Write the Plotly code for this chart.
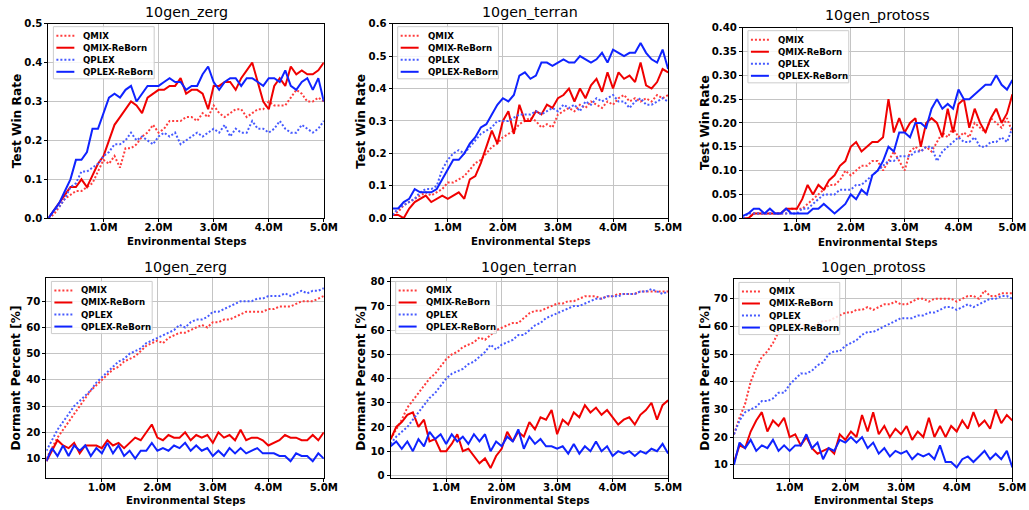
import plotly.graph_objects as go

# ---------------- data (x in millions of environmental steps) ----------------
steps_m = [0.0, 0.1, 0.2, 0.3, 0.4, 0.5, 0.6, 0.7, 0.8, 0.9,
           1.0, 1.1, 1.2, 1.3, 1.4, 1.5, 1.6, 1.7, 1.8, 1.9,
           2.0, 2.1, 2.2, 2.3, 2.4, 2.5, 2.6, 2.7, 2.8, 2.9,
           3.0, 3.1, 3.2, 3.3, 3.4, 3.5, 3.6, 3.7, 3.8, 3.9,
           4.0, 4.1, 4.2, 4.3, 4.4, 4.5, 4.6, 4.7, 4.8, 4.9, 5.0]

methods = ["QMIX", "QMIX-ReBorn", "QPLEX", "QPLEX-ReBorn"]
maps = ["10gen_zerg", "10gen_terran", "10gen_protoss"]
x_tick_vals = [1, 2, 3, 4, 5]
x_tick_text = ["1.0M", "2.0M", "3.0M", "4.0M", "5.0M"]

# ---- Test win rate ----
zerg_win_qmix = [0.0, 0.01, 0.03, 0.05, 0.06, 0.07, 0.07, 0.08, 0.09, 0.12,
                 0.15, 0.14, 0.16, 0.13, 0.18, 0.18, 0.19, 0.21, 0.22, 0.24,
                 0.22, 0.23, 0.25, 0.25, 0.25, 0.26, 0.26, 0.25, 0.27, 0.26,
                 0.29, 0.27, 0.26, 0.27, 0.28, 0.28, 0.26, 0.27, 0.28, 0.28,
                 0.30, 0.29, 0.29, 0.29, 0.31, 0.33, 0.32, 0.30, 0.30, 0.31, 0.30]
zerg_win_qmix_reborn = [0.0, 0.02, 0.04, 0.06, 0.08, 0.08, 0.10, 0.08, 0.11, 0.14,
                        0.16, 0.20, 0.24, 0.26, 0.28, 0.30, 0.29, 0.27, 0.31, 0.32,
                        0.33, 0.33, 0.34, 0.34, 0.36, 0.32, 0.33, 0.33, 0.32, 0.28,
                        0.34, 0.34, 0.35, 0.35, 0.33, 0.36, 0.38, 0.40, 0.35, 0.30,
                        0.28, 0.34, 0.36, 0.34, 0.39, 0.37, 0.38, 0.37, 0.37, 0.38, 0.40]
zerg_win_qplex = [0.0, 0.02, 0.03, 0.05, 0.08, 0.09, 0.12, 0.12, 0.13, 0.14,
                  0.16, 0.17, 0.19, 0.19, 0.20, 0.22, 0.20, 0.21, 0.20, 0.19,
                  0.21, 0.22, 0.21, 0.22, 0.19, 0.20, 0.21, 0.22, 0.21, 0.22,
                  0.23, 0.22, 0.24, 0.21, 0.23, 0.22, 0.22, 0.25, 0.23, 0.23,
                  0.22, 0.23, 0.25, 0.23, 0.22, 0.22, 0.24, 0.23, 0.22, 0.23, 0.25]
zerg_win_qplex_reborn = [0.0, 0.02, 0.04, 0.07, 0.10, 0.15, 0.15, 0.17, 0.23, 0.23,
                         0.27, 0.31, 0.32, 0.31, 0.33, 0.34, 0.30, 0.32, 0.34, 0.34,
                         0.34, 0.35, 0.36, 0.35, 0.35, 0.33, 0.34, 0.34, 0.37, 0.39,
                         0.35, 0.33, 0.35, 0.36, 0.36, 0.34, 0.36, 0.36, 0.35, 0.34,
                         0.36, 0.36, 0.35, 0.38, 0.34, 0.33, 0.35, 0.36, 0.33, 0.36, 0.30]

terran_win_qmix = [0.01, 0.02, 0.04, 0.05, 0.06, 0.07, 0.08, 0.07, 0.08, 0.09,
                   0.11, 0.11, 0.12, 0.13, 0.15, 0.17, 0.18, 0.20, 0.22, 0.23,
                   0.25, 0.26, 0.27, 0.29, 0.30, 0.31, 0.30, 0.28, 0.29, 0.28,
                   0.32, 0.33, 0.34, 0.33, 0.35, 0.34, 0.36, 0.35, 0.34, 0.36,
                   0.35, 0.37, 0.38, 0.36, 0.37, 0.36, 0.37, 0.36, 0.38, 0.37, 0.38]
terran_win_qmix_reborn = [0.01, 0.01, 0.00, 0.03, 0.05, 0.06, 0.07, 0.05, 0.06, 0.07,
                          0.06, 0.07, 0.08, 0.06, 0.12, 0.13, 0.17, 0.22, 0.27, 0.23,
                          0.30, 0.33, 0.26, 0.35, 0.30, 0.30, 0.33, 0.32, 0.35, 0.34,
                          0.37, 0.38, 0.40, 0.36, 0.40, 0.37, 0.41, 0.43, 0.39, 0.45,
                          0.40, 0.45, 0.43, 0.44, 0.42, 0.48, 0.41, 0.40, 0.42, 0.46, 0.45]
terran_win_qplex = [0.01, 0.03, 0.04, 0.05, 0.06, 0.08, 0.09, 0.09, 0.10, 0.15,
                    0.18, 0.20, 0.21, 0.20, 0.22, 0.24, 0.26, 0.27, 0.28, 0.30,
                    0.30, 0.30, 0.31, 0.32, 0.32, 0.32, 0.33, 0.32, 0.33, 0.34,
                    0.33, 0.35, 0.34, 0.35, 0.33, 0.36, 0.35, 0.37, 0.36, 0.37,
                    0.38, 0.36, 0.36, 0.34, 0.36, 0.37, 0.35, 0.35, 0.36, 0.37, 0.36]
terran_win_qplex_reborn = [0.03, 0.03, 0.05, 0.06, 0.09, 0.08, 0.08, 0.08, 0.09, 0.12,
                           0.15, 0.18, 0.18, 0.20, 0.23, 0.25, 0.28, 0.29, 0.32, 0.35,
                           0.37, 0.36, 0.38, 0.44, 0.45, 0.43, 0.44, 0.48, 0.48, 0.47,
                           0.48, 0.49, 0.48, 0.48, 0.50, 0.49, 0.48, 0.49, 0.51, 0.48,
                           0.52, 0.51, 0.50, 0.51, 0.51, 0.54, 0.51, 0.49, 0.48, 0.52, 0.46]

protoss_win_qmix = [0.00, 0.00, 0.01, 0.01, 0.01, 0.01, 0.01, 0.01, 0.01, 0.02,
                    0.02, 0.02, 0.03, 0.04, 0.05, 0.06, 0.07, 0.07, 0.08, 0.10,
                    0.09, 0.10, 0.11, 0.11, 0.12, 0.12, 0.10, 0.12, 0.14, 0.12,
                    0.10, 0.14, 0.15, 0.14, 0.15, 0.14, 0.16, 0.18, 0.17, 0.19,
                    0.17, 0.18, 0.17, 0.20, 0.19, 0.18, 0.21, 0.20, 0.19, 0.21, 0.18]
protoss_win_qmix_reborn = [0.00, 0.00, 0.01, 0.01, 0.01, 0.01, 0.01, 0.01, 0.02, 0.02,
                           0.02, 0.04, 0.07, 0.05, 0.07, 0.06, 0.08, 0.09, 0.11, 0.12,
                           0.15, 0.16, 0.14, 0.15, 0.16, 0.16, 0.17, 0.25, 0.18, 0.21,
                           0.18, 0.20, 0.21, 0.15, 0.20, 0.21, 0.20, 0.17, 0.23, 0.18,
                           0.24, 0.25, 0.19, 0.23, 0.20, 0.18, 0.21, 0.23, 0.20, 0.22, 0.26]
protoss_win_qplex = [0.00, 0.01, 0.01, 0.01, 0.01, 0.01, 0.01, 0.01, 0.01, 0.01,
                     0.01, 0.02, 0.02, 0.03, 0.04, 0.05, 0.05, 0.05, 0.06, 0.06,
                     0.06, 0.07, 0.07, 0.08, 0.09, 0.10, 0.11, 0.12, 0.12, 0.13,
                     0.13, 0.13, 0.14, 0.14, 0.15, 0.15, 0.12, 0.14, 0.15, 0.16,
                     0.17, 0.16, 0.16, 0.17, 0.15, 0.15, 0.16, 0.16, 0.17, 0.16, 0.19]
protoss_win_qplex_reborn = [0.005, 0.01, 0.02, 0.02, 0.01, 0.02, 0.01, 0.01, 0.02, 0.01,
                            0.01, 0.01, 0.01, 0.02, 0.02, 0.03, 0.02, 0.01, 0.02, 0.03,
                            0.05, 0.04, 0.06, 0.05, 0.09, 0.10, 0.12, 0.15, 0.14, 0.18,
                            0.18, 0.17, 0.20, 0.20, 0.19, 0.23, 0.25, 0.23, 0.24, 0.23,
                            0.27, 0.25, 0.25, 0.26, 0.27, 0.28, 0.28, 0.30, 0.28, 0.27, 0.29]

# ---- Dormant percent ----
zerg_dorm_qmix = [10, 14, 18, 21, 24, 27, 30, 33, 36, 38,
                  40, 42, 44, 45, 47, 48, 49, 51, 53, 54,
                  55, 54, 56, 57, 58, 58, 59, 60, 61, 60,
                  62, 62, 63, 63, 64, 65, 66, 66, 66, 66,
                  67, 67, 68, 68, 68, 69, 70, 70, 70, 71, 72]
zerg_dorm_qmix_reborn = [9, 13, 17, 15, 14, 16, 12, 15, 15, 15,
                         14, 17, 15, 16, 14, 16, 18, 17, 20, 23,
                         18, 17, 19, 18, 18, 20, 17, 19, 18, 19,
                         16, 20, 18, 19, 17, 21, 17, 18, 18, 17,
                         15, 16, 17, 19, 18, 18, 17, 17, 19, 17, 20]
zerg_dorm_qplex = [13, 17, 21, 24, 27, 30, 32, 34, 36, 39,
                   41, 43, 45, 47, 48, 50, 51, 52, 54, 55,
                   56, 57, 58, 59, 61, 60, 62, 63, 63, 64,
                   66, 66, 67, 68, 69, 70, 70, 70, 71, 71,
                   72, 72, 72, 73, 72, 73, 74, 73, 74, 74, 75]
zerg_dorm_qplex_reborn = [9, 14, 11, 15, 11, 15, 13, 15, 11, 14,
                          12, 16, 12, 15, 11, 13, 10, 13, 13, 16,
                          13, 14, 13, 15, 14, 16, 13, 15, 13, 14,
                          11, 13, 11, 14, 12, 14, 12, 13, 14, 12,
                          12, 12, 11, 11, 9, 12, 11, 11, 9, 12, 10]

terran_dorm_qmix = [15, 19, 23, 28, 31, 34, 37, 40, 42, 45,
                    48, 50, 51, 53, 54, 55, 57, 56, 58, 60,
                    61, 62, 63, 63, 65, 67, 68, 68, 69, 70,
                    71, 71, 72, 72, 73, 74, 74, 74, 73, 74,
                    74, 75, 75, 75, 75, 76, 76, 76, 76, 76, 76]
terran_dorm_qmix_reborn = [15, 20, 22, 25, 26, 20, 23, 14, 15, 10,
                           10, 13, 17, 10, 11, 8, 5, 7, 3, 8,
                           11, 18, 14, 18, 16, 22, 19, 24, 23, 27,
                           17, 23, 21, 26, 24, 29, 26, 28, 25, 27,
                           24, 21, 23, 24, 21, 25, 27, 30, 23, 29, 31]
terran_dorm_qplex = [13, 16, 18, 20, 23, 26, 29, 32, 34, 37,
                     40, 42, 43, 44, 46, 47, 49, 51, 54, 52,
                     54, 55, 56, 58, 58, 60, 62, 63, 65, 66,
                     67, 68, 69, 70, 70, 71, 72, 73, 73, 74,
                     74, 74, 75, 75, 75, 76, 76, 77, 76, 75, 76]
terran_dorm_qplex_reborn = [12, 14, 11, 14, 10, 15, 12, 18, 15, 17,
                            13, 17, 14, 16, 13, 17, 14, 17, 10, 14,
                            12, 16, 14, 19, 11, 16, 13, 15, 12, 12,
                            11, 12, 9, 13, 9, 12, 10, 14, 10, 12,
                            8, 10, 9, 10, 8, 10, 9, 11, 10, 13, 9]

protoss_dorm_qmix = [21, 27, 32, 40, 45, 49, 51, 54, 58, 60,
                     61, 61, 61, 60, 60, 61, 62, 62, 63, 64,
                     65, 65, 66, 66, 67, 66, 67, 68, 68, 69,
                     68, 68, 69, 70, 70, 69, 70, 70, 70, 70,
                     69, 70, 71, 71, 70, 73, 71, 71, 72, 72, 72]
protoss_dorm_qmix_reborn = [11, 17, 16, 22, 26, 29, 22, 26, 24, 27,
                            20, 21, 17, 20, 16, 14, 15, 16, 14, 21,
                            19, 22, 20, 28, 22, 29, 21, 24, 20, 23,
                            21, 24, 19, 22, 20, 27, 20, 24, 20, 24,
                            22, 26, 23, 29, 24, 26, 23, 30, 25, 28, 26]
protoss_dorm_qplex = [21, 26, 29, 30, 31, 33, 33, 34, 36, 36,
                      39, 41, 43, 43, 44, 46, 47, 50, 51, 51,
                      53, 54, 55, 57, 58, 58, 59, 60, 61, 62,
                      63, 63, 63, 64, 64, 65, 65, 66, 67, 67,
                      66, 67, 68, 67, 68, 69, 70, 70, 71, 71, 70]
protoss_dorm_qplex_reborn = [10, 18, 16, 19, 15, 17, 16, 19, 15, 17,
                             15, 17, 17, 21, 16, 18, 12, 16, 15, 19,
                             18, 20, 18, 20, 16, 18, 14, 16, 13, 15,
                             14, 15, 12, 14, 13, 14, 12, 17, 11, 11,
                             9, 12, 13, 11, 13, 15, 12, 14, 12, 15, 9]

win_data = [
    [zerg_win_qmix, zerg_win_qmix_reborn, zerg_win_qplex, zerg_win_qplex_reborn],
    [terran_win_qmix, terran_win_qmix_reborn, terran_win_qplex, terran_win_qplex_reborn],
    [protoss_win_qmix, protoss_win_qmix_reborn, protoss_win_qplex, protoss_win_qplex_reborn],
]
dorm_data = [
    [zerg_dorm_qmix, zerg_dorm_qmix_reborn, zerg_dorm_qplex, zerg_dorm_qplex_reborn],
    [terran_dorm_qmix, terran_dorm_qmix_reborn, terran_dorm_qplex, terran_dorm_qplex_reborn],
    [protoss_dorm_qmix, protoss_dorm_qmix_reborn, protoss_dorm_qplex, protoss_dorm_qplex_reborn],
]

# ---------------- styling / layout ----------------
W, H = 1041, 522
# calibration of the photographed page (photo px -> page px)
SX, CX = 0.9886, -1.5
SY, CY = 0.976, 5.4
FS = 1.0 / 0.982  # font compensation

styles = [
    dict(color="rgb(255,60,60)", dash="2px,2px", width=2),
    dict(color="rgb(240,0,0)", dash="solid", width=2),
    dict(color="rgb(70,90,255)", dash="2px,2px", width=2),
    dict(color="rgb(15,35,255)", dash="solid", width=2),
]
# target pixel boxes in the photo (left, right, top, bottom)
boxes = [
    (47, 323, 24, 218), (392, 668, 24, 218), (743, 1013, 28, 218),
    (45, 323, 278, 477), (390, 668, 278, 477), (734, 1013, 279, 477),
]
y_ranges = [[0, 0.5], [0, 0.6], [0, 0.40], [2.6, 78.7], [-1.1, 81.4], [5.2, 77.0]]
y_ticks = [
    [0.0, 0.1, 0.2, 0.3, 0.4, 0.5],
    [0.0, 0.1, 0.2, 0.3, 0.4, 0.5, 0.6],
    [0.0, 0.05, 0.10, 0.15, 0.20, 0.25, 0.30, 0.35, 0.40],
    [10, 20, 30, 40, 50, 60, 70],
    [0, 10, 20, 30, 40, 50, 60, 70, 80],
    [10, 20, 30, 40, 50, 60, 70],
]
y_fmt = [".1f", ".1f", ".2f", "d", "d", "d"]
y_titles = ["Test Win Rate"] * 3 + ["Dormant Percent [%]"] * 3
title_y = [12, 12, 15, 267, 267, 267]
ytitle_x = [15, 360, 705, 15, 360, 705]
xtitle_y = [241, 241, 242, 499, 499, 499]


def px_x(v):
    return ((v - CX) / SX) / W


def px_y(v):
    return 1 - ((v - CY) / SY) / H


fig = go.Figure()
tick_font = dict(family="DejaVu Sans", size=10 * FS, color="black", weight="bold")

shapes = []
annotations = []
for p in range(6):
    row_data = win_data if p < 3 else dorm_data
    series = row_data[p % 3]
    sfx = "" if p == 0 else str(p + 1)
    for k, name in enumerate(methods):
        fig.add_trace(go.Scatter(
            x=steps_m, y=series[k], mode="lines", name=name,
            line=styles[k], xaxis="x" + sfx, yaxis="y" + sfx,
            showlegend=False, hoverinfo="skip",
        ))
    l, r, t, b = boxes[p]
    xa = dict(domain=[px_x(l), px_x(r)], range=[0, 5], anchor="y" + sfx,
              tickvals=x_tick_vals, ticktext=x_tick_text, tickfont=tick_font,
              showgrid=True, gridcolor="#c4c4c4", gridwidth=1.3,
              showline=True, linecolor="black", linewidth=1, mirror=True,
              ticks="outside", ticklen=3, tickcolor="black", zeroline=False,
              ticklabelstandoff=-3)
    ya = dict(domain=[px_y(b), px_y(t)], range=y_ranges[p], anchor="x" + sfx,
              tickvals=y_ticks[p], tickformat=y_fmt[p], tickfont=tick_font,
              showgrid=True, gridcolor="#c4c4c4", gridwidth=1.3,
              showline=True, linecolor="black", linewidth=1, mirror=True,
              ticks="outside", ticklen=3, tickcolor="black", zeroline=False)
    fig.update_layout(**{"xaxis" + sfx: xa, "yaxis" + sfx: ya})

    # legend box (matplotlib style)
    bl, bt = l + 5, t + 3
    bw, bh = 101, 52
    shapes.append(dict(type="rect", xref="paper", yref="paper",
                       x0=px_x(bl), x1=px_x(bl + bw), y0=px_y(bt + bh), y1=px_y(bt),
                       fillcolor="rgba(255,255,255,0.85)",
                       line=dict(color="#cccccc", width=1), layer="above"))
    for k, name in enumerate(methods):
        yc = bt + 9 + 12 * k
        shapes.append(dict(type="line", xref="paper", yref="paper",
                           x0=px_x(bl + 3), x1=px_x(bl + 21), y0=px_y(yc), y1=px_y(yc),
                           line=dict(color=styles[k]["color"], dash=styles[k]["dash"], width=2),
                           layer="above"))
        annotations.append(dict(text=name, x=px_x(bl + 28), y=px_y(yc),
                                xref="paper", yref="paper", showarrow=False,
                                xanchor="left", yanchor="middle",
                                font=dict(family="DejaVu Sans", size=8.5 * FS,
                                          color="black", weight="bold")))

    # subplot title
    annotations.append(dict(text=maps[p % 3], x=px_x((l + r) / 2), y=px_y(title_y[p]),
                            xref="paper", yref="paper", showarrow=False,
                            xanchor="center", yanchor="middle",
                            font=dict(family="DejaVu Sans", size=14 * FS, color="black")))
    # y title
    annotations.append(dict(text=y_titles[p], x=px_x(ytitle_x[p]), y=px_y((t + b) / 2),
                            xref="paper", yref="paper", showarrow=False, textangle=-90,
                            xanchor="center", yanchor="middle",
                            font=dict(family="DejaVu Sans", size=12 * FS,
                                      color="black", weight="bold")))
    # x title
    annotations.append(dict(text="Environmental Steps", x=px_x((l + r) / 2),
                            y=px_y(xtitle_y[p]),
                            xref="paper", yref="paper", showarrow=False,
                            xanchor="center", yanchor="middle",
                            font=dict(family="DejaVu Sans", size=10 * FS,
                                      color="black", weight="bold")))

fig.update_layout(width=W, height=H, margin=dict(l=0, r=0, t=0, b=0),
                  plot_bgcolor="white", paper_bgcolor="white",
                  shapes=shapes, annotations=annotations, showlegend=False)
fig.write_html("out.html", config={"displayModeBar": False},
               post_script="document.body.style.margin='0';"
                           "document.body.style.overflow='hidden';")
